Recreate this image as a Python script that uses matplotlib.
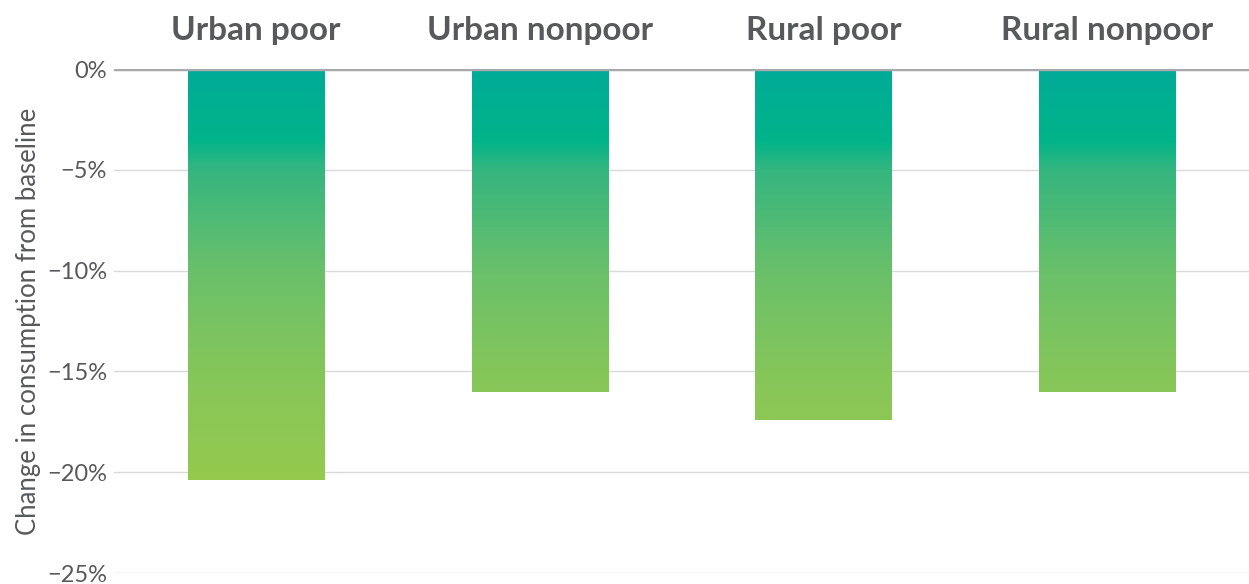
import matplotlib.pyplot as plt
import numpy as np
from matplotlib.colors import LinearSegmentedColormap

# data
categories = ["Urban poor", "Urban nonpoor", "Rural poor", "Rural nonpoor"]
values = [-20.4, -16.0, -17.4, -16.0]
yticks = [0, -5, -10, -15, -20, -25]

plt.rcParams['font.family'] = ['Lato', 'DejaVu Sans']

fig = plt.figure(figsize=(12.49, 5.84), dpi=100)
ax = fig.add_axes([114 / 1249, 1 - 573 / 584, 1 - 114 / 1249, (573 - 69) / 584])

# gradient from teal at zero to green further down
cmap = LinearSegmentedColormap.from_list(
    "tealgreen",
    [(0.0, "#00ab98"), (0.14, "#00b48a"), (0.2, "#35b680"),
     (0.4, "#6ac06a"), (0.6, "#85c65a"), (0.8, "#94c94f"), (1.0, "#98ca4b")])

x = np.arange(len(categories))
bars = ax.bar(x, values, width=0.48, color="none", edgecolor="none", zorder=3)
grad = np.linspace(0, 1, 256).reshape(-1, 1)
for b in bars:
    im = ax.imshow(grad, cmap=cmap, aspect="auto", extent=[-0.5, 3.5, -25, 0],
                   origin="upper", zorder=3)
    im.set_clip_path(b)

ax.set_xlim(-0.5, 3.5)
ax.set_ylim(-25, 0)

ax.set_yticks(yticks)
ax.set_yticklabels(["0%" if v == 0 else "\u2212%d%%" % -v for v in yticks],
                   fontsize=17, color="#58595b")
ax.yaxis.grid(True, color="#d9d9d9", linewidth=1, zorder=0)
ax.axhline(0, color="#a7a9ac", linewidth=2.5, zorder=4)
ax.tick_params(axis="y", length=0, pad=5)

ax.xaxis.tick_top()
ax.set_xticks(x)
ax.set_xticklabels(categories, fontsize=24, fontweight="bold", color="#58595b")
ax.tick_params(axis="x", length=0, pad=17)

ax.set_ylabel("Change in consumption from baseline", fontsize=18.5, color="#58595b", labelpad=4)

for s in ax.spines.values():
    s.set_visible(False)

fig.savefig("out.png", dpi=100)
